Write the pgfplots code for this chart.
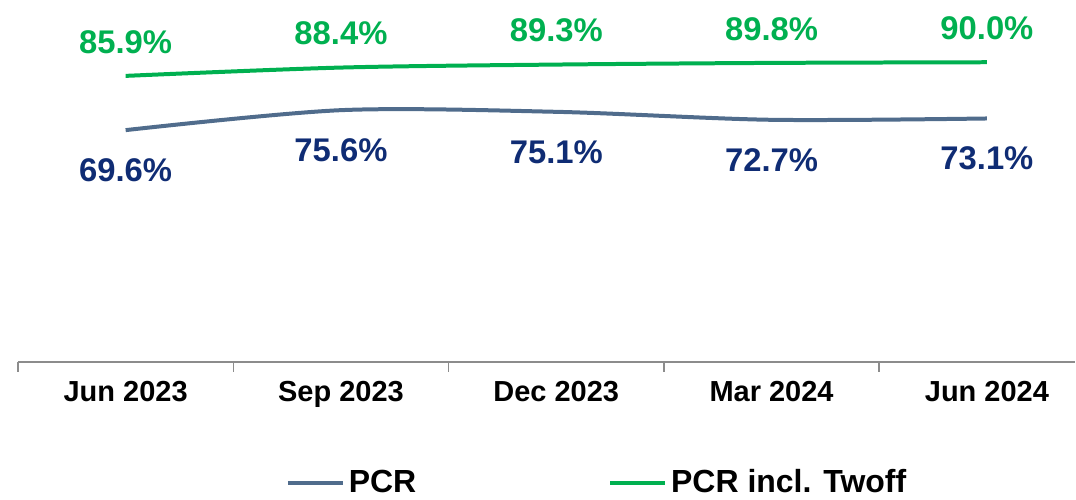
\documentclass[border=0pt]{standalone}
\usepackage{pgfplots}
\pgfplotsset{compat=1.18}
\usetikzlibrary{calc}
\usepackage{fontspec}
\setmainfont{Liberation Sans}
\definecolor{pcrline}{HTML}{506C8C}
\definecolor{pcrlab}{HTML}{0F2C74}
\definecolor{twoff}{HTML}{00B050}
\begin{document}
\begin{tikzpicture}
\begin{axis}[
    name=ax,
    scale only axis,
    width=529pt, height=181pt,
    xmin=-0.5, xmax=4.41,
    ymin=0, ymax=108.7,
    axis x line*=bottom,
    axis y line=none,
    x axis line style={draw=black!45, line width=0.8pt},
    xtick={0,1,2,3,4},
    xticklabels={Jun 2023,Sep 2023,Dec 2023,Mar 2024,Jun 2024},
    major tick length=0pt,
    minor xtick={-0.5,0.5,1.5,2.5,3.5,4.5},
    minor tick length=5pt,
    tick align=outside,
    minor tick style={draw=black!45, line width=0.8pt},
    xticklabel style={font=\fontsize{14.5}{16}\selectfont\bfseries, yshift=-6pt},
    clip=false,
    legend style={
        at={(0.253,-0.334)}, anchor=west,
        draw=none, fill=none, inner sep=0pt,
        font=\fontsize{16}{18}\selectfont\bfseries,
        legend columns=2,
        /tikz/every even column/.append style={column sep=94pt},
        legend cell align=left,
    },
    legend image code/.code={\draw[#1] (0pt,0pt) -- (27.5pt,0pt);},
    nodes near coords,
    every node near coord/.append style={font=\fontsize{16.4}{18}\selectfont\bfseries},
]
\addplot[pcrline, line width=2pt, smooth, mark=none,
    point meta=explicit symbolic,
    every node near coord/.append style={text=pcrlab, anchor=center, yshift=-20pt}]
  coordinates {
    (0,69.6) [69.6\%]
    (1,75.6) [75.6\%]
    (2,75.1) [75.1\%]
    (3,72.7) [72.7\%]
    (4,73.1) [73.1\%]
};
\addlegendentry{PCR}
\addplot[twoff, line width=2pt, smooth, mark=none,
    point meta=explicit symbolic,
    every node near coord/.append style={text=twoff, anchor=center, yshift=17pt}]
  coordinates {
    (0,85.9) [85.9\%]
    (1,88.4) [88.4\%]
    (2,89.3) [89.3\%]
    (3,89.8) [89.8\%]
    (4,90.0) [90.0\%]
};
\addlegendentry{PCR incl. Twoff}
\end{axis}
\path[use as bounding box] ($(ax.south west)+(-9pt,-68.5pt)$) rectangle (ax.north east);
\end{tikzpicture}
\end{document}
